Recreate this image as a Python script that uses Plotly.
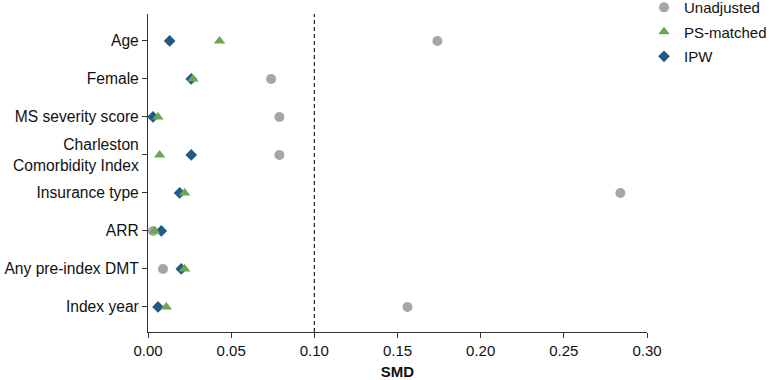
import plotly.graph_objects as go

categories = ["Age", "Female", "MS severity score", "Charleston<br>Comorbidity Index",
              "Insurance type", "ARR", "Any pre-index DMT", "Index year"]
unadjusted = [0.174, 0.074, 0.079, 0.079, 0.284, 0.003, 0.009, 0.156]
ps_matched = [0.043, 0.027, 0.006, 0.007, 0.022, 0.004, 0.022, 0.011]
ipw = [0.013, 0.026, 0.003, 0.026, 0.019, 0.008, 0.020, 0.006]
x_ticks = [0.0, 0.05, 0.10, 0.15, 0.20, 0.25, 0.30]
x_tick_labels = ["0.00", "0.05", "0.10", "0.15", "0.20", "0.25", "0.30"]

idx = list(range(len(categories)))

fig = go.Figure()
fig.add_trace(go.Scatter(x=unadjusted, y=idx, mode="markers", name="Unadjusted",
                         legendrank=1, legendgroup="a",
                         marker=dict(symbol="circle", size=10, color="#A6A6A6")))
fig.add_trace(go.Scatter(x=ipw, y=idx, mode="markers", name="IPW",
                         legendrank=3, legendgroup="c",
                         marker=dict(symbol="diamond", size=9, color="#1F5B86")))
fig.add_trace(go.Scatter(x=ps_matched, y=idx, mode="markers", name="PS-matched",
                         legendrank=2, legendgroup="b",
                         marker=dict(symbol="triangle-up", size=10, color="#6BA650")))

fig.add_shape(type="line", x0=0.10, x1=0.10, y0=0, y1=1, xref="x", yref="paper",
              line=dict(color="#222222", width=1.2, dash="4px,3px"))

fig.update_layout(
    width=769, height=380,
    margin=dict(l=148, r=122, t=14, b=48, autoexpand=False),
    plot_bgcolor="white", paper_bgcolor="white",
    font=dict(family="Liberation Sans, Arial, sans-serif", size=15, color="#111111"),
    legend=dict(x=0.994, y=1.072, xanchor="left", yanchor="top",
                font=dict(size=15), tracegroupgap=2, itemwidth=30,
                bgcolor="rgba(0,0,0,0)"),
    xaxis=dict(range=[0, 0.30], tickvals=x_ticks, ticktext=x_tick_labels,
               showgrid=False, zeroline=False, showline=True, linecolor="#333333",
               linewidth=1.2, ticks="outside", ticklen=5, tickcolor="#333333",
               tickfont=dict(size=15),
               title=dict(text="<b>SMD</b>", font=dict(size=15), standoff=8)),
    yaxis=dict(range=[7.66, -0.71], tickvals=idx, ticktext=categories,
               showgrid=False, zeroline=False, showline=True, linecolor="#333333",
               linewidth=1.2, ticks="outside", ticklen=5, tickcolor="#333333",
               tickfont=dict(size=15.6)),
)

fig.write_html("out.html", config={"displayModeBar": False},
               post_script="document.body.style.margin='0';document.body.style.padding='0';")
